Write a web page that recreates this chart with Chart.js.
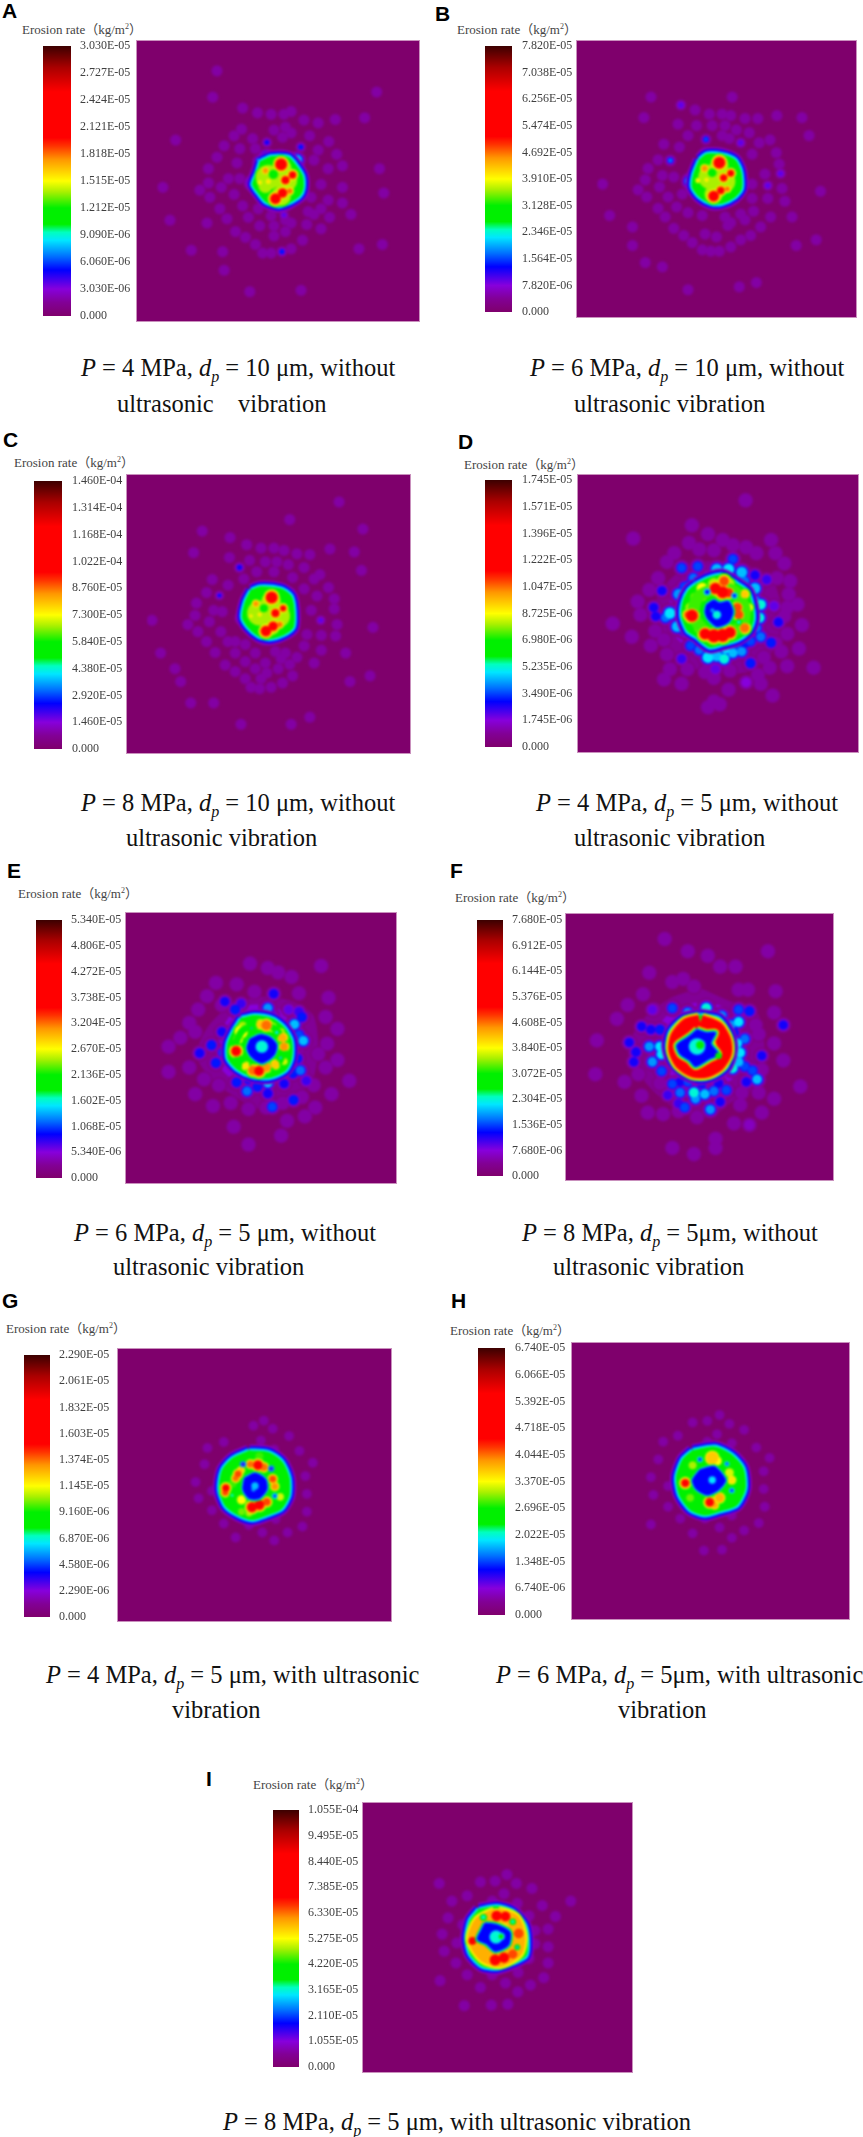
<!DOCTYPE html>
<html>
<head>
<meta charset="utf-8">
<script src="https://cdn.jsdelivr.net/npm/chart.js@4"></script>
<style>
  html, body { margin: 0; background: #fff; }
  #page { position: relative; width: 863px; height: 2137px; overflow: hidden; font-family: "Liberation Serif", "Noto Sans CJK SC", serif; }
  #page > * { position: absolute; }
  .letter { font: bold 21px/21px "Liberation Sans", sans-serif; color: #000; }
  .title { font-size: 13px; line-height: 16px; color: #444; white-space: pre; }
  .title sup { font-size: 8px; line-height: 0; }
  .cap { font-size: 24.5px; line-height: 30px; color: #111; white-space: pre; }
  .cap sub { font-size: 16px; line-height: 0; }
  .map { background: rgb(127,0,108); overflow: hidden; box-shadow: 0 0 0 1px #c990bd; }
  .map canvas { filter: blur(1.2px); }
</style>
</head>
<body>
<div id="page"></div>
<script>
// share of the scale maximum -> colour
const legendStops = [[0,127,0,108],[.05,130,0,150],[.1,135,0,220],[.17,0,0,255],[.22,0,110,255],[.28,0,230,255],[.31,0,255,190],[.34,0,240,0],[.4,0,240,0],[.46,170,240,0],[.5,255,255,0],[.58,255,150,0],[.63,255,50,0],[.66,255,0,0],[.83,255,0,0],[.92,170,0,0],[1,60,0,0]];

const ticksA = ['3.030E-05','2.727E-05','2.424E-05','2.121E-05','1.818E-05','1.515E-05','1.212E-05','9.090E-06','6.060E-06','3.030E-06','0.000'];
const ticksB = ['7.820E-05','7.038E-05','6.256E-05','5.474E-05','4.692E-05','3.910E-05','3.128E-05','2.346E-05','1.564E-05','7.820E-06','0.000'];
const ticksC = ['1.460E-04','1.314E-04','1.168E-04','1.022E-04','8.760E-05','7.300E-05','5.840E-05','4.380E-05','2.920E-05','1.460E-05','0.000'];
const ticksD = ['1.745E-05','1.571E-05','1.396E-05','1.222E-05','1.047E-05','8.725E-06','6.980E-06','5.235E-06','3.490E-06','1.745E-06','0.000'];
const ticksE = ['5.340E-05','4.806E-05','4.272E-05','3.738E-05','3.204E-05','2.670E-05','2.136E-05','1.602E-05','1.068E-05','5.340E-06','0.000'];
const ticksF = ['7.680E-05','6.912E-05','6.144E-05','5.376E-05','4.608E-05','3.840E-05','3.072E-05','2.304E-05','1.536E-05','7.680E-06','0.000'];
const ticksG = ['2.290E-05','2.061E-05','1.832E-05','1.603E-05','1.374E-05','1.145E-05','9.160E-06','6.870E-06','4.580E-06','2.290E-06','0.000'];
const ticksH = ['6.740E-05','6.066E-05','5.392E-05','4.718E-05','4.044E-05','3.370E-05','2.696E-05','2.022E-05','1.348E-05','6.740E-06','0.000'];
const ticksI = ['1.055E-04','9.495E-05','8.440E-05','7.385E-05','6.330E-05','5.275E-05','4.220E-05','3.165E-05','2.110E-05','1.055E-05','0.000'];

// faint erosion marks on each sample [x, y]
const haloA = [[620,158],[605,250],[1180,232],[710,288],[762,305],[810,310],[855,310],[880,300],[925,330],[975,340],[1035,328],[1138,322],[475,400],[706,362],[680,385],[820,365],[860,355],[880,375],[850,390],[945,385],[745,395],[645,420],[700,430],[755,430],[975,435],[1012,405],[1040,450],[620,460],[690,480],[590,500],[1060,490],[1010,500],[960,470],[1190,500],[660,535],[700,535],[590,550],[560,575],[635,565],[430,565],[985,555],[1060,565],[1205,585],[595,600],[680,590],[630,640],[710,630],[765,640],[1010,610],[1060,620],[950,600],[985,640],[940,650],[1090,660],[655,675],[730,670],[810,665],[860,680],[960,660],[1015,670],[455,680],[585,690],[685,720],[720,740],[770,700],[820,700],[880,690],[935,695],[985,710],[820,735],[860,720],[920,750],[755,765],[780,795],[810,795],[880,780],[1118,780],[1200,765],[530,785],[640,790],[645,855],[735,930],[915,925]];
const haloB = [[630,250],[785,295],[835,310],[880,310],[910,315],[960,325],[1005,325],[1072,315],[1160,322],[1185,385],[915,250],[605,322],[725,345],[845,350],[890,350],[930,365],[975,375],[880,385],[905,395],[760,385],[675,415],[730,425],[1010,410],[1048,400],[1070,445],[790,350],[620,500],[655,470],[985,450],[1080,485],[1030,520],[670,525],[710,530],[610,540],[660,565],[585,575],[460,555],[1090,570],[985,555],[1225,580],[615,600],[690,600],[740,590],[985,605],[1040,605],[1100,615],[655,640],[720,635],[760,655],[810,665],[890,670],[910,690],[945,660],[990,650],[1050,670],[1125,670],[680,670],[485,665],[565,705],[565,770],[710,710],[745,735],[820,730],[860,740],[900,700],[960,680],[1015,705],[980,735],[945,750],[775,760],[810,785],[840,790],[870,790],[910,775],[1140,770],[1210,750],[610,830],[670,845],[760,925],[940,915],[1000,900]];
const haloC = [[575,262],[1052,160],[880,222],[1135,255],[672,285],[730,310],[780,322],[825,322],[860,330],[905,342],[950,345],[1020,325],[1105,335],[545,338],[670,355],[795,370],[835,370],[875,380],[740,365],[825,405],[765,405],[930,390],[985,415],[720,430],[890,425],[610,432],[665,452],[965,430],[1130,400],[1015,460],[930,465],[590,478],[555,515],[975,490],[1035,500],[615,540],[645,545],[550,558],[1035,535],[955,540],[525,590],[600,580],[400,575],[1045,590],[1170,600],[560,615],[640,615],[690,650],[940,625],[990,628],[1040,630],[590,650],[665,650],[725,660],[830,685],[865,690],[930,665],[990,680],[620,688],[690,690],[760,690],[1075,690],[430,690],[725,720],[795,725],[850,710],[905,705],[965,725],[655,732],[690,755],[760,745],[800,760],[840,745],[880,730],[725,780],[780,780],[890,770],[480,745],[500,790],[745,810],[775,815],[815,810],[855,795],[1160,770],[1090,790],[535,865],[615,865],[710,940],[885,940],[950,915]];
const haloD = [[958,165],[775,250],[575,295],[830,280],[880,300],[915,318],[960,325],[1045,300],[765,310],[850,335],[995,345],[715,345],[1060,345],[800,332],[690,375],[1090,380],[660,430],[630,470],[1110,440],[1105,485],[1135,520],[1065,430],[590,510],[600,555],[1100,530],[505,585],[1090,560],[1150,590],[1100,620],[570,630],[650,610],[635,660],[680,640],[1060,650],[1140,670],[1080,680],[1020,700],[690,690],[700,740],[760,740],[820,750],[905,745],[1040,735],[1100,730],[1190,735],[1000,760],[960,785],[680,775],[740,790],[850,770],[1010,790],[1050,830],[830,870],[870,860],[900,810],[850,850]];
const haloE = [[745,250],[805,265],[840,280],[885,295],[985,258],[630,315],[700,320],[760,345],[910,350],[1010,365],[600,360],[570,405],[650,390],[1000,430],[1040,470],[540,450],[470,530],[510,500],[560,480],[1005,520],[975,555],[1040,575],[470,615],[540,600],[590,640],[640,660],[1080,645],[1000,600],[960,660],[1020,690],[560,690],[620,730],[680,720],[965,735],[740,740],[800,735],[855,720],[930,765],[690,800],[870,780],[740,860],[850,830],[920,700]];
const haloF = [[695,180],[770,220],[835,235],[875,270],[925,270],[1030,220],[645,290],[720,320],[755,310],[790,335],[935,345],[965,345],[1055,350],[625,360],[575,395],[660,410],[1050,420],[990,460],[1000,490],[475,510],[540,440],[1050,520],[470,620],[565,645],[610,620],[1080,575],[1135,660],[1010,605],[620,690],[680,650],[1050,700],[1000,680],[945,680],[640,745],[690,750],[740,740],[860,860],[800,760],[940,720],[1010,745],[970,785],[720,860],[790,880],[860,830],[920,780]];
const haloG = [[315,38],[280,55],[345,65],[180,110],[305,105],[400,90],[125,130],[350,135],[435,140],[115,185],[480,180],[455,225],[85,245],[140,275],[460,285],[95,300],[140,340],[460,345],[180,385],[445,395],[265,390],[310,415],[395,415],[220,432],[350,442],[355,370]];
const haloH = [[1310,320],[1255,345],[1285,340],[1330,350],[1225,390],[1305,385],[1360,370],[1195,410],[1385,430],[1285,410],[1335,415],[1185,470],[1412,465],[1400,510],[1170,530],[1205,560],[1400,570],[1175,590],[1205,630],[1402,630],[1230,670],[1280,670],[1335,660],[1390,685],[1170,690],[1255,720],[1310,700],[1360,710],[1335,735],[1278,778],[1315,775]];
const haloI = [[955,350],[725,380],[865,375],[915,372],[987,380],[1040,397],[820,422],[945,415],[768,440],[905,440],[990,448],[1075,455],[1172,440],[755,497],[1030,490],[1120,492],[805,520],[735,552],[1095,535],[1050,540],[785,582],[1050,585],[1095,595],[742,610],[782,650],[1095,650],[1030,635],[820,690],[905,690],[993,682],[728,710],[950,718],[1080,700],[1035,725],[865,733],[992,748],[810,795],[902,793],[958,790]];

// violet haze round the ring samples [x, y]
const hazeD = [[860,380],[960,395],[1040,440],[1075,560],[1050,660],[980,735],[860,745],[740,710],[670,620],[650,540],[700,450],[780,390]];
const hazeE = [[790,370],[880,385],[950,430],[965,540],[945,640],[870,710],[780,730],[700,690],[630,640],[575,560],[610,470],[690,395]];
const hazeF = [[810,350],[900,390],[985,420],[1010,540],[1000,640],[910,700],[840,750],[730,720],[640,640],[590,540],[620,460],[720,380]];

// stronger marks outside the core [x, y, share of max, extent]
const blobsA = [[795,408,.17,6],[914,424,.18,6],[848,790,.18,6],[855,662,.12,7],[795,462,.27,15],[900,470,.27,14],[742,550,.27,11],[912,590,.27,10],[770,478,.27,10]];
const blobsB = [[735,278,.13,8],[823,398,.2,6],[698,472,.22,6],[1040,560,.12,8],[1085,518,.12,8],[945,410,.12,8],[822,452,.24,11],[768,545,.27,14]];
const blobsC = [[705,390,.17,7],[635,488,.17,5],[988,575,.12,7],[875,485,.24,10],[712,568,.25,8]];
const blobsD = [[740,395,.2],[795,390,.2],[780,430,.22],[860,400,.26,15],[900,400,.28,15],[915,365,.2],[945,410,.26,15],[990,420,.16],[1030,435,.14],[990,465,.26,15],[955,440,.22],[730,485,.24,15],[765,455,.2],[673,473,.16],[750,460,.2],[645,530,.16],[652,560,.16],[700,550,.28,15],[685,565,.22],[725,595,.26,15],[750,610,.2],[990,505,.24],[1010,520,.3],[1005,565,.3],[990,550,.26],[1070,580,.16],[1055,525,.12],[995,600,.22],[1010,630,.22],[1045,650,.18],[975,645,.2],[960,650,.18],[770,660,.2],[800,675,.22],[830,700,.28,15],[860,695,.26,15],[885,705,.3],[915,685,.26],[945,680,.24],[930,670,.2],[870,665,.18],[890,670,.28],[975,720,.18],[740,705,.14],[855,740,.13],[960,785,.1]];
const blobsE = [[825,352,.17],[660,378,.16],[695,405,.18],[715,385,.14],[805,400,.24],[815,430,.28],[875,405,.12],[910,412,.15],[895,455,.26],[920,430,.18],[910,490,.2],[925,510,.26],[895,520,.18],[615,525,.18],[575,552,.17],[650,480,.16],[630,585,.18],[655,550,.2],[905,570,.18],[915,610,.22],[890,620,.18],[935,645,.14],[700,650,.18],[735,680,.22],[770,665,.18],[805,650,.28],[805,688,.17],[860,655,.16],[892,710,.18],[820,733,.2],[740,640,.18]];
const blobsF = [[720,405,.2],[830,405,.3],[770,420,.24],[880,430,.24],[935,410,.2],[970,415,.18],[655,410,.12],[910,460,.24],[935,450,.28],[955,505,.22],[930,520,.28],[940,550,.28],[920,485,.18],[620,465,.16],[680,475,.18],[650,475,.16],[1080,460,.16],[580,517,.16],[645,530,.24],[602,548,.17],[680,530,.28],[685,555,.28],[655,580,.24],[685,610,.2],[595,580,.16],[1010,560,.16],[955,595,.2],[980,608,.2],[995,637,.26],[915,600,.3],[935,580,.26],[960,645,.16],[720,652,.2],[745,645,.16],[770,645,.2],[790,680,.3],[825,685,.26],[855,675,.22],[895,672,.2],[745,680,.22],[815,650,.18],[870,650,.16],[760,728,.2],[740,715,.14],[843,735,.24],[875,710,.16],[705,688,.14],[970,785,.08],[795,700,.24]];

// outline of the green core [x, y]
const discA = [[772,475],[810,458],[870,460],[895,485],[920,525],[922,570],[910,595],[870,620],[835,630],[790,615],[765,585],[745,555],[760,515]];
const discB = [[800,470],[825,450],[880,452],[925,470],[945,510],[948,570],[925,600],[880,622],[840,622],[800,600],[775,565],[780,520]];
const discC = [[745,470],[775,458],[850,465],[885,490],[895,540],[892,600],[860,625],[810,640],[770,630],[735,600],[715,565],[725,510]];
const discD = [[790,450],[830,430],[880,420],[930,450],[965,475],[980,520],[985,570],[970,610],[930,640],[880,655],[835,665],[790,630],[760,610],[740,560],[745,510],[765,470]];
const discE = [[715,435],[760,425],[820,435],[860,465],[885,510],[885,570],[865,610],[810,635],[750,630],[700,605],[670,570],[670,520],[690,475]];
const discF = [[810,428],[870,440],[905,490],[912,540],[895,595],[855,625],[805,635],[755,615],[720,580],[705,530],[715,480],[755,440]];
const discG = [[265,140],[330,145],[375,175],[400,230],[400,290],[375,335],[330,355],[275,372],[225,355],[185,325],[165,270],[175,205],[210,165]];
const discH = [[1255,440],[1300,428],[1335,455],[1358,500],[1362,570],[1345,625],[1310,645],[1280,658],[1250,640],[1228,590],[1222,530],[1235,470]];
const discI = [[860,468],[920,458],[975,475],[1015,520],[1025,570],[1020,625],[975,650],[920,668],[870,660],[830,620],[818,565],[830,505]];

// mid line of the hot ring [x, y]
const ringD = [[860,462],[920,475],[955,535],[945,590],[880,625],[820,610],[780,560],[795,495]];
const ringE = [[780,452],[830,470],[860,525],[840,585],[770,608],[715,585],[695,530],[720,475]];
const ringF = [[810,452],[862,472],[886,512],[888,550],[866,586],[830,606],[790,606],[750,580],[732,540],[738,500],[770,462]];
const ringI = [[920,486],[975,505],[995,560],[985,610],[930,640],[880,625],[845,570],[865,515]];

// peaks inside the core [x, y, share of max, extent]
const peaksA = [[800,530,.47,36],[860,540,.47,34],[845,595,.47,28],[850,500,.47,26],[790,560,.47,20],[845,485,.68,15],[860,540,.68,9],[885,522,.66,9],[825,605,.68,13],[850,585,.68,11],[875,578,.6,7],[790,507,.58,7],[770,548,.52,5],[800,545,.52,6]];
const peaksB = [[840,530,.47,36],[885,545,.47,34],[850,590,.47,26],[870,490,.47,26],[870,480,.68,15],[885,533,.68,8],[910,517,.66,8],[850,597,.68,13],[875,577,.66,9],[898,572,.6,6],[818,500,.58,8],[795,542,.52,5],[825,540,.52,5]];
const peaksC = [[775,550,.47,36],[840,560,.47,34],[815,595,.47,26],[815,510,.47,28],[817,495,.68,15],[830,550,.68,9],[857,533,.66,7],[797,613,.68,13],[822,596,.68,11],[845,590,.6,7],[762,517,.58,7],[745,560,.52,4],[775,555,.52,5]];
const peaksD = [[810,490,.46,10],[770,530,.46,9],[800,600,.46,9],[940,590,.46,8],[950,510,.46,7],[900,450,.46,12],[850,450,.46,12],[855,465,.68,9],[880,478,.68,10],[900,480,.64,7],[885,440,.62,8],[775,558,.66,11],[762,555,.62,5],[820,620,.68,9],[850,627,.7,11],[880,625,.7,11],[905,615,.68,9],[930,530,.62,7],[935,555,.62,7],[955,600,.6,8],[810,465,.5,10],[785,495,.46,7],[955,485,.54,6],[970,530,.5,5]];
const peaksE = [[715,480,.5,14],[720,460,.46,8],[705,505,.5,8],[800,458,.6,10],[780,455,.54,8],[820,465,.5,8],[855,500,.56,8],[860,530,.58,7],[850,480,.46,6],[698,545,.68,8],[730,595,.52,7],[755,610,.6,9],[775,612,.66,9],[800,600,.58,8],[830,590,.54,8],[860,580,.48,5]];
const peaksF = [];
const peaksG = [[295,188,.66,8],[270,185,.6,5],[315,195,.6,6],[228,218,.62,5],[220,232,.6,4],[238,205,.55,4],[345,235,.62,5],[352,260,.58,5],[187,265,.66,5],[185,280,.62,4],[275,330,.66,9],[300,322,.66,9],[325,312,.62,6],[240,305,.5,8],[265,350,.46,5],[370,295,.48,6],[300,158,.42,8],[240,345,.44,6],[210,250,.42,8]];
const peaksH = [[1295,465,.55,14],[1305,475,.5,8],[1330,515,.48,8],[1335,540,.52,7],[1240,550,.66,6],[1290,615,.66,7],[1310,600,.56,9],[1300,625,.56,5],[1255,490,.46,7],[1250,600,.44,7]];
const peaksI = [[920,490,.68,9],[950,492,.66,9],[995,550,.62,10],[915,640,.68,10],[945,632,.66,10],[975,620,.62,9],[838,575,.66,6]];

// low rate hollow in the middle of the ring [x, y]
const hollowD = [[825,520],[850,505],[870,515],[900,510],[915,545],[900,580],[860,595],[830,570],[820,545]];
const hollowE = [[745,505],[780,490],[815,500],[835,525],[825,560],[785,585],[750,565],[735,535]];
const hollowF = [[800,475],[830,485],[860,485],[845,520],[870,555],[840,570],[795,595],[775,575],[745,555],[735,525],[770,500]];
const hollowG = [[250,232],[285,215],[320,235],[325,270],[300,300],[265,300],[245,270]];
const hollowH = [[1270,505],[1300,495],[1322,540],[1310,570],[1285,590],[1262,570],[1255,540]];
const hollowI = [[880,515],[920,520],[965,545],[960,590],[915,610],[885,585],[855,570],[870,535]];

// centre of the hollow [x, y, share of max, extent]
const centreD = [[860,555,.3,10],[845,540,.24,5]];
const centreE = [[785,530,.3,16],[775,535,.26,7]];
const centreF = [[800,530,.3,22],[810,525,.38,10]];
const centreG = [[285,258,.27,9],[280,270,.25,5]];
const centreH = [[1295,540,.28,9]];
const centreI = [[918,562,.3,17],[935,560,.36,6]];

// small low spots on the core [x, y, share of max, extent]
const dentsA = [[818,520,.36,9]];
const dentsB = [[845,515,.36,8]];
const dentsC = [[790,533,.36,7]];
const dentsD = [[827,477,.17,6],[920,490,.17,5],[935,580,.28,5]];
const dentsE = [[750,468,.25,3],[835,482,.28,5],[848,568,.26,4]];
const dentsF = [[870,560,.38,5]];
const dentsG = [[245,185,.14,5],[340,200,.14,5],[352,292,.17,4],[208,290,.3,4]];
const dentsH = [[1270,470,.17,4],[1325,485,.17,3],[1335,575,.17,4]];
const dentsI = [[975,510,.3,5],[875,495,.3,6],[990,597,.26,4]];

const capA = ['<i>P</i> = 4 MPa, <i>d<sub>p</sub></i> = 10 μm, without', 'ultrasonic    vibration'];
const capB = ['<i>P</i> = 6 MPa, <i>d<sub>p</sub></i> = 10 μm, without', 'ultrasonic vibration'];
const capC = ['<i>P</i> = 8 MPa, <i>d<sub>p</sub></i> = 10 μm, without', 'ultrasonic vibration'];
const capD = ['<i>P</i> = 4 MPa, <i>d<sub>p</sub></i> = 5 μm, without', 'ultrasonic vibration'];
const capE = ['<i>P</i> = 6 MPa, <i>d<sub>p</sub></i> = 5 μm, without', 'ultrasonic vibration'];
const capF = ['<i>P</i> = 8 MPa, <i>d<sub>p</sub></i> = 5μm, without', 'ultrasonic vibration'];
const capG = ['<i>P</i> = 4 MPa, <i>d<sub>p</sub></i> = 5 μm, with ultrasonic', 'vibration'];
const capH = ['<i>P</i> = 6 MPa, <i>d<sub>p</sub></i> = 5μm, with ultrasonic', 'vibration'];
const capI = ['<i>P</i> = 8 MPa, <i>d<sub>p</sub></i> = 5 μm, with ultrasonic vibration'];

// page layout, one row per panel
const panels = [
  {id:'A', ticks:ticksA, halo:haloA, blobs:blobsA, disc:discA, peaks:peaksA, dents:dentsA, cap:capA, haloSize:11, grow:0, letter:[2,0], title:[22,22], map:[137,41,419,321], range:[410,1258,124,962], bar:[43,46,71,316], labels:80, capX:[81,117], capY:[368,404]},
  {id:'B', ticks:ticksB, halo:haloB, blobs:blobsB, disc:discB, peaks:peaksB, dents:dentsB, cap:capB, haloSize:11, grow:0, letter:[435,3], title:[457,22], map:[577,41,856,317], range:[441,1279,124,950], bar:[485,46,512,312], labels:522, capX:[530,574], capY:[368,404]},
  {id:'C', ticks:ticksC, halo:haloC, blobs:blobsC, disc:discC, peaks:peaksC, dents:dentsC, cap:capC, haloSize:11, grow:0, letter:[3,429], title:[14,455], map:[127,475,410,753], range:[383,1229,136,970], bar:[34,481,62,749], labels:72, capX:[81,126], capY:[803,838]},
  {id:'D', ticks:ticksD, halo:haloD, blobs:blobsD, disc:discD, peaks:peaksD, hollow:hollowD, centre:centreD, dents:dentsD, haze:hazeD, skirt:26, ring:ringD, ringBands:[[.42,12]], cap:capD, haloSize:16, grow:5, letter:[458,431], title:[464,457], map:[578,475,858,752], range:[443,1285,135,966], bar:[485,480,512,747], labels:522, capX:[536,574], capY:[803,838]},
  {id:'E', ticks:ticksE, halo:haloE, blobs:blobsE, disc:discE, peaks:peaksE, hollow:hollowE, centre:centreE, dents:dentsE, haze:hazeE, skirt:22, ring:ringE, ringBands:[[.4,7]], cap:capE, haloSize:16, grow:4, letter:[7,860], title:[18,886], map:[126,913,396,1183], range:[377,1187,130,939], bar:[36,920,62,1178], labels:71, capX:[74,113], capY:[1233,1267]},
  {id:'F', ticks:ticksF, halo:haloF, blobs:blobsF, disc:discF, peaks:peaksF, hollow:hollowF, centre:centreF, dents:dentsF, haze:hazeF, skirt:26, ring:ringF, ringBands:[[.44,21],[.5,19],[.6,17],[.68,15]], rim:true, cap:capF, haloSize:16, grow:0, letter:[450,860], title:[455,890], map:[566,914,833,1180], range:[408,1208,132,931], bar:[477,920,503,1176], labels:512, capX:[522,553], capY:[1233,1267]},
  {id:'G', ticks:ticksG, halo:haloG, blobs:[], disc:discG, peaks:peaksG, hollow:hollowG, centre:centreG, dents:dentsG, cap:capG, haloSize:9, grow:4, letter:[2,1290], title:[6,1321], map:[118,1349,391,1621], range:[-126,693,-153,663], bar:[24,1355,50,1617], labels:59, capX:[46,172], capY:[1675,1710]},
  {id:'H', ticks:ticksH, halo:haloH, blobs:[], disc:discH, peaks:peaksH, hollow:hollowH, centre:centreH, dents:dentsH, cap:capH, haloSize:9, grow:4, letter:[451,1290], title:[450,1323], map:[572,1343,849,1619], range:[1040,1543,128,958], bar:[478,1348,505,1615], labels:515, capX:[496,618], capY:[1675,1710]},
  {id:'I', ticks:ticksI, halo:haloI, blobs:[], disc:discI, peaks:peaksI, hollow:hollowI, centre:centreI, dents:dentsI, ring:ringI, ringBands:[[.44,19],[.5,17],[.56,14]], cap:capI, haloSize:11, grow:4, letter:[206,1768], title:[253,1777], map:[363,1803,632,2072], range:[519,1327,160,967], bar:[273,1810,299,2067], labels:308, capX:[223], capY:[2122]}
];

function legendColour(v) {
  for (let i = 1; i < legendStops.length; i++) {
    const a = legendStops[i-1], b = legendStops[i];
    if (v <= b[0]) {
      const t = (v - a[0]) / (b[0] - a[0]);
      return 'rgb(' + [1,2,3].map(k => Math.round(a[k] + (b[k]-a[k])*t)).join(',') + ')';
    }
  }
  return 'rgb(60,0,0)';
}

const page = document.getElementById('page');
function add(tag, cls, css, html) {
  const el = document.createElement(tag);
  if (cls) el.className = cls;
  Object.assign(el.style, css);
  if (html) el.innerHTML = html;
  page.appendChild(el);
  return el;
}

// contour levels, each spot gets a shrinking disc per level up to its peak
const levelStep = 0.02;
function contourLayers(spots, from, to) {
  const layers = [];
  for (let n = Math.round(from/levelStep); n*levelStep <= to; n++) {
    const l = n*levelStep;
    const data = [];
    spots.forEach(s => {
      const peak = s[2], extent = s[3] === undefined ? 13 : s[3];
      if (peak >= l - 1e-6) {
        data.push({x: s[0], y: s[1], r: (extent + 40*(peak-l) + (l < .1 ? (.1-l)*80 : 0)) / 3});
      }
    });
    if (data.length) layers.push({type:'bubble', data, backgroundColor: legendColour(l), borderWidth: 0});
  }
  return layers;
}

function outline(pts, level, width, fill) {
  const data = pts.concat([pts[0]]).map(p => ({x: p[0], y: p[1]}));
  return {type:'line', data, tension:.25, pointRadius:0, borderWidth:width, borderColor:legendColour(level), borderJoinStyle:'round',
    fill: fill ? 'shape' : false, backgroundColor: legendColour(level)};
}

function drawMap(p) {
  const w = p.map[2]-p.map[0], h = p.map[3]-p.map[1];
  const box = add('div', 'map', {left:p.map[0]+'px', top:p.map[1]+'px', width:w+'px', height:h+'px'});
  const cv = document.createElement('canvas');
  cv.width = w; cv.height = h;
  box.appendChild(cv);

  const peaks = p.peaks.map(s => [s[0], s[1], s[2], s[3] + p.grow]);
  const spots = p.halo.map(s => [s[0], s[1], .065, p.haloSize]).concat(p.blobs, peaks);
  let layers = [];
  if (p.haze) layers.push(outline(p.haze, .05, 6, true));
  if (p.skirt) layers.push(outline(p.disc, .1, p.skirt));
  layers = layers.concat(contourLayers(spots, levelStep, .32));
  layers.push(outline(p.disc, .08, 13), outline(p.disc, .17, 9), outline(p.disc, .28, 5), outline(p.disc, .36, 1, true));
  layers = layers.concat(contourLayers(peaks, .34, .5));
  if (p.ring) p.ringBands.forEach(b => layers.push(outline(p.ring, b[0], b[1])));
  layers = layers.concat(contourLayers(peaks, .52, .72));
  if (p.hollow) {
    if (p.rim) layers.push(outline(p.hollow, .5, 7));
    layers.push(outline(p.hollow, .36, 5), outline(p.hollow, .27, 3), outline(p.hollow, .17, 1, true));
    layers = layers.concat(contourLayers(p.centre, .18, .4));
  }
  p.dents.forEach(d => {
    layers.push({type:'bubble', data:[{x:d[0], y:d[1], r:(d[3]+5)/3}], backgroundColor:legendColour(Math.min(d[2]+.1,.36)), borderWidth:0});
    layers.push({type:'bubble', data:[{x:d[0], y:d[1], r:d[3]/3}], backgroundColor:legendColour(d[2]), borderWidth:0});
  });
  layers.forEach((l, i) => { l.order = layers.length - i; });

  new Chart(cv, {
    type: 'bubble',
    data: {datasets: layers},
    options: {
      responsive:false, animation:false, events:[],
      layout:{padding:0},
      plugins:{legend:{display:false}, tooltip:{enabled:false}},
      scales:{
        x:{type:'linear', display:false, min:p.range[0], max:p.range[1]},
        y:{type:'linear', display:false, min:p.range[2], max:p.range[3], reverse:true}
      }
    }
  });
}

function drawBar(p) {
  const labelW = 72, pad = 8;
  const barW = p.bar[2]-p.bar[0], barH = p.bar[3]-p.bar[1];
  const cv = add('canvas', '', {left:p.bar[0]+'px', top:(p.bar[1]-pad)+'px'});
  cv.width = barW+labelW; cv.height = barH+2*pad;
  const top = parseFloat(p.ticks[0]);
  new Chart(cv, {
    type:'bar',
    data:{labels:[''], datasets:[{
      data:[top], barPercentage:1, categoryPercentage:1,
      backgroundColor: c => {
        const a = c.chart.chartArea;
        if (!a) return null;
        const g = c.chart.ctx.createLinearGradient(0, a.bottom, 0, a.top);
        legendStops.forEach(s => g.addColorStop(s[0], 'rgb('+s[1]+','+s[2]+','+s[3]+')'));
        return g;
      }
    }]},
    options:{
      responsive:false, animation:false, events:[],
      layout:{padding:{top:pad, bottom:pad}},
      plugins:{legend:{display:false}, tooltip:{enabled:false}},
      scales:{
        x:{display:false},
        y:{
          position:'right', min:0, max:top,
          grid:{display:false, drawTicks:false}, border:{display:false},
          afterBuildTicks: ax => { ax.ticks = p.ticks.slice().reverse().map(t => ({value:parseFloat(t)})); },
          afterFit: ax => { ax.width = labelW; ax.paddingTop = 0; ax.paddingBottom = 0; },
          ticks:{
            autoSkip:false, padding:p.labels-p.bar[2], color:'#3f3f3f',
            font:{family:'"Liberation Serif"', size:12},
            callback:(v, i) => p.ticks[p.ticks.length-1-i]
          }
        }
      }
    }
  });
}

panels.forEach(p => {
  add('div', 'letter', {left:p.letter[0]+'px', top:p.letter[1]+'px'}, p.id);
  add('div', 'title', {left:p.title[0]+'px', top:p.title[1]+'px'}, 'Erosion rate（kg/m<sup>2</sup>）');
  drawBar(p);
  drawMap(p);
  p.cap.forEach((line, i) => add('div', 'cap', {left:p.capX[i]+'px', top:(p.capY[i]-15)+'px'}, line));
});
</script>
</body>
</html>
